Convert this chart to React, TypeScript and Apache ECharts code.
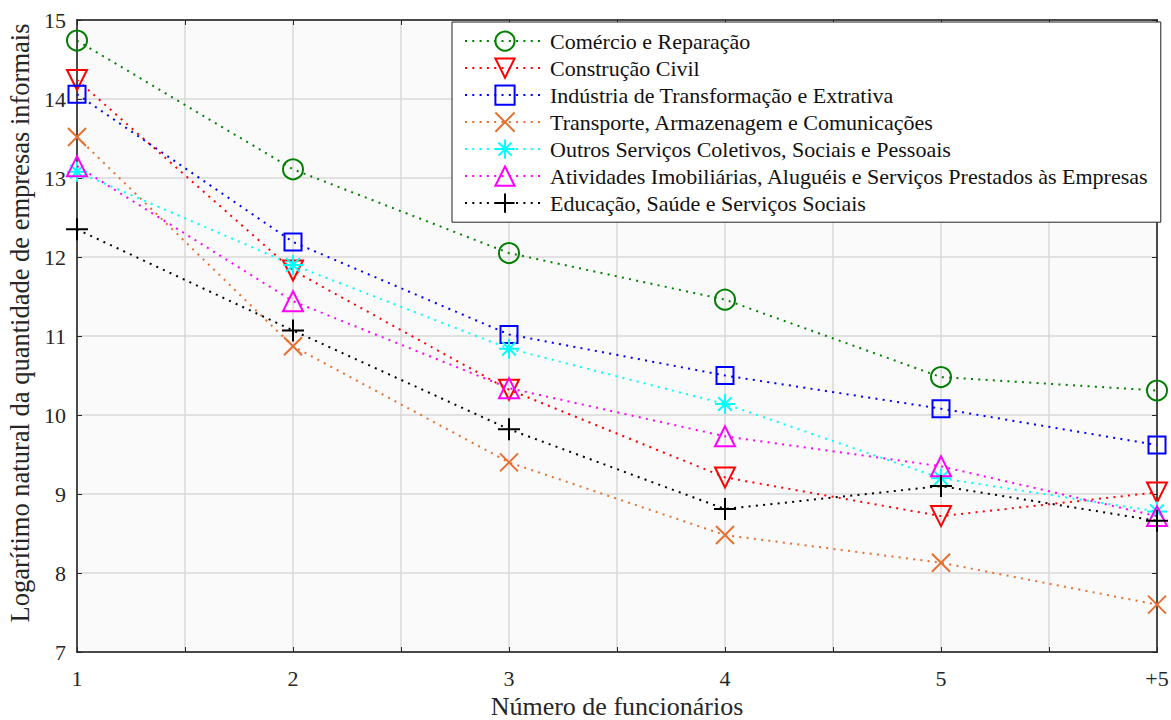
import React, { useEffect, useRef } from "react";
import * as echarts from "echarts";

const xValues = [1, 2, 3, 4, 5, 6];
const xTickLabels: Record<number, string> = { 1: "1", 2: "2", 3: "3", 4: "4", 5: "5", 6: "+5" };

const seriesNames = [
  "Comércio e Reparação",
  "Construção Civil",
  "Indústria de Transformação e Extrativa",
  "Transporte, Armazenagem e Comunicações",
  "Outros Serviços Coletivos, Sociais e Pessoais",
  "Atividades Imobiliárias, Aluguéis e Serviços Prestados às Empresas",
  "Educação, Saúde e Serviços Sociais",
];

const comercio = [14.74, 13.11, 12.05, 11.46, 10.48, 10.31];
const construcao = [14.24, 11.83, 10.32, 9.21, 8.72, 9.02];
const industria = [14.06, 12.19, 11.02, 10.5, 10.08, 9.62];
const transporte = [13.52, 10.87, 9.4, 8.48, 8.13, 7.6];
const outros = [13.08, 11.9, 10.84, 10.14, 9.2, 8.78];
const atividades = [13.15, 11.44, 10.34, 9.73, 9.35, 8.72];
const educacao = [12.35, 11.07, 9.82, 8.81, 9.1, 8.66];

const seriesValues = [comercio, construcao, industria, transporte, outros, atividades, educacao];
const seriesColors = ["#008000", "#ff0000", "#0000ff", "#e8702f", "#00ffff", "#ff00ff", "#000000"];
const seriesSymbols = [
  "circle",
  "path://M0,0 L10,0 L5,9 Z",
  "path://M0,0 H10 V10 H0 Z",
  "path://M0,0 L10,10 M10,0 L0,10",
  "path://M5,0 V10 M0,5 H10 M1.6,1.6 L8.4,8.4 M8.4,1.6 L1.6,8.4",
  "path://M5,0 L10,9 L0,9 Z",
  "path://M5,0 V10 M0,5 H10",
];
const seriesSizes = [20, 20, 17, 18, 20, 20, 22];

const FONT = "'Liberation Serif', 'Times New Roman', serif";
const TEXT = "#262626";

export default function App() {
  const ref = useRef<HTMLDivElement>(null);
  useEffect(() => {
    if (!ref.current) return;
    const chart = echarts.init(ref.current, null, { renderer: "svg" });
    const series = seriesNames.map((name, i) => ({
      name,
      type: "line",
      data: xValues.map((x, j) => [x, seriesValues[i][j]]),
      symbol: seriesSymbols[i],
      symbolSize: seriesSizes[i],
      showSymbol: true,
      lineStyle: { color: seriesColors[i], width: 2, type: [2, 5.3], cap: "butt" },
      itemStyle: { color: "none", borderColor: seriesColors[i], borderWidth: 2 },
      emphasis: { disabled: true },
      z: 3 + i,
    }));
    chart.setOption({
      animation: false,
      backgroundColor: "#ffffff",
      textStyle: { fontFamily: FONT },
      grid: {
        left: 77,
        right: 14,
        top: 20,
        bottom: 68,
        containLabel: false,
        outerBoundsMode: "none",
        show: true,
        backgroundColor: "#fafafa",
        borderColor: TEXT,
        borderWidth: 1.5,
      },
      legend: {
        orient: "vertical",
        left: 452,
        top: 22,
        data: seriesNames,
        backgroundColor: "#ffffff",
        borderColor: "#222222",
        borderWidth: 1,
        borderRadius: 0,
        padding: [7, 12, 7, 12],
        itemWidth: 80,
        itemHeight: 24,
        itemGap: 2.8,
        textStyle: { fontFamily: FONT, fontSize: 22, color: "#111111" },
        selectedMode: false,
      },
      xAxis: [
        {
          type: "value",
          min: 1,
          max: 6,
          interval: 0.5,
          name: "Número de funcionários",
          nameLocation: "middle",
          nameGap: 41,
          nameTextStyle: { fontFamily: FONT, fontSize: 26, lineHeight: 22, color: TEXT },
          axisLine: { show: true, lineStyle: { color: TEXT, width: 1.5 } },
          axisTick: { show: true, inside: true, length: 5, lineStyle: { color: TEXT } },
          axisLabel: {
            fontFamily: FONT,
            fontSize: 22,
            color: TEXT,
            margin: 15,
            formatter: (v: number) => xTickLabels[v] ?? "",
          },
          splitLine: { show: true, lineStyle: { color: "#d9d9d9", width: 1.5 } },
        },
        {
          type: "value",
          position: "top",
          min: 1,
          max: 6,
          interval: 0.5,
          axisLine: { show: true, lineStyle: { color: TEXT, width: 1.5 } },
          axisTick: { show: true, inside: true, length: 5, lineStyle: { color: TEXT } },
          axisLabel: { show: false },
          splitLine: { show: false },
        },
      ],
      yAxis: [
        {
          type: "value",
          min: 7,
          max: 15,
          interval: 1,
          name: "Logarítimo natural da quantidade de empresas informais",
          nameLocation: "middle",
          nameRotate: 90,
          nameGap: 42,
          nameTextStyle: { fontFamily: FONT, fontSize: 26.5, color: TEXT, padding: [0, 0, 0, 26] },
          axisLine: { show: true, lineStyle: { color: TEXT, width: 1.5 } },
          axisTick: { show: true, inside: true, length: 5, lineStyle: { color: TEXT } },
          axisLabel: { fontFamily: FONT, fontSize: 22, color: TEXT, margin: 11 },
          splitLine: { show: true, lineStyle: { color: "#d9d9d9", width: 1.5 } },
        },
        {
          type: "value",
          position: "right",
          min: 7,
          max: 15,
          interval: 1,
          axisLine: { show: true, lineStyle: { color: TEXT, width: 1.5 } },
          axisTick: { show: true, inside: true, length: 5, lineStyle: { color: TEXT } },
          axisLabel: { show: false },
          splitLine: { show: false },
        },
      ],
      series,
    });
    return () => chart.dispose();
  }, []);
  return <div ref={ref} style={{ width: 1171, height: 720, position: "absolute", left: 0, top: 0 }} />;
}
